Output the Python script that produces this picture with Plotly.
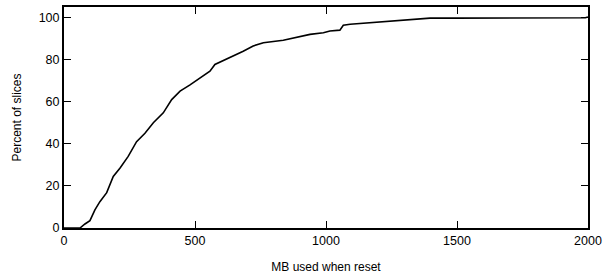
import plotly.graph_objects as go

mb_used = [0, 61, 80, 99, 118, 137, 163, 188, 214, 245, 277, 309, 341, 379, 411, 443, 481, 519,
           557, 576, 634, 684, 722, 761, 837, 863, 939, 990, 1015, 1053, 1060, 1066, 1092,
           1200, 1300, 1397, 1500, 1700, 1990, 2000]
percent = [0, 0, 1.9, 3.5, 8.6, 12.5, 16.8, 24.5, 28.5, 34, 41, 45, 50, 54.7, 61, 65, 68, 71.4,
           74.5, 77.7, 81, 84, 86.5, 88, 89.2, 90, 92, 92.8, 93.6, 94, 95.5, 96.3, 96.8,
           97.8, 98.8, 99.7, 99.7, 99.8, 99.9, 100.3]

x_ticks = [0, 500, 1000, 1500, 2000]
y_ticks = [0, 20, 40, 60, 80, 100]

FONT = "Liberation Sans, Arial, Helvetica, sans-serif"

fig = go.Figure()
fig.add_trace(go.Scatter(x=mb_used, y=percent, mode="lines",
                         line=dict(color="black", width=1.6), showlegend=False))

axis_common = dict(showline=True, linecolor="black", linewidth=2, mirror="allticks",
                   ticks="inside", ticklen=7, tickwidth=1.3, tickcolor="black",
                   showgrid=False, zeroline=False,
                   tickfont=dict(family=FONT, size=12.5, color="black"))

fig.update_xaxes(range=[0, 2000], tickvals=x_ticks, ticktext=[str(v) for v in x_ticks],
                 title=dict(text="MB used when reset", font=dict(family=FONT, size=12, color="black"),
                            standoff=16),
                 **axis_common)
fig.update_yaxes(range=[0, 105], tickvals=y_ticks, ticktext=[str(v) for v in y_ticks],
                 title=dict(text="Percent of slices", font=dict(family=FONT, size=12, color="black"),
                            standoff=14),
                 **axis_common)

fig.update_layout(width=603, height=277, margin=dict(l=64, r=15, t=7, b=49, autoexpand=False),
                  paper_bgcolor="white", plot_bgcolor="white")

fig.write_html("out.html", config={"displayModeBar": False},
               post_script="document.body.style.margin='0';document.body.style.padding='0';")
